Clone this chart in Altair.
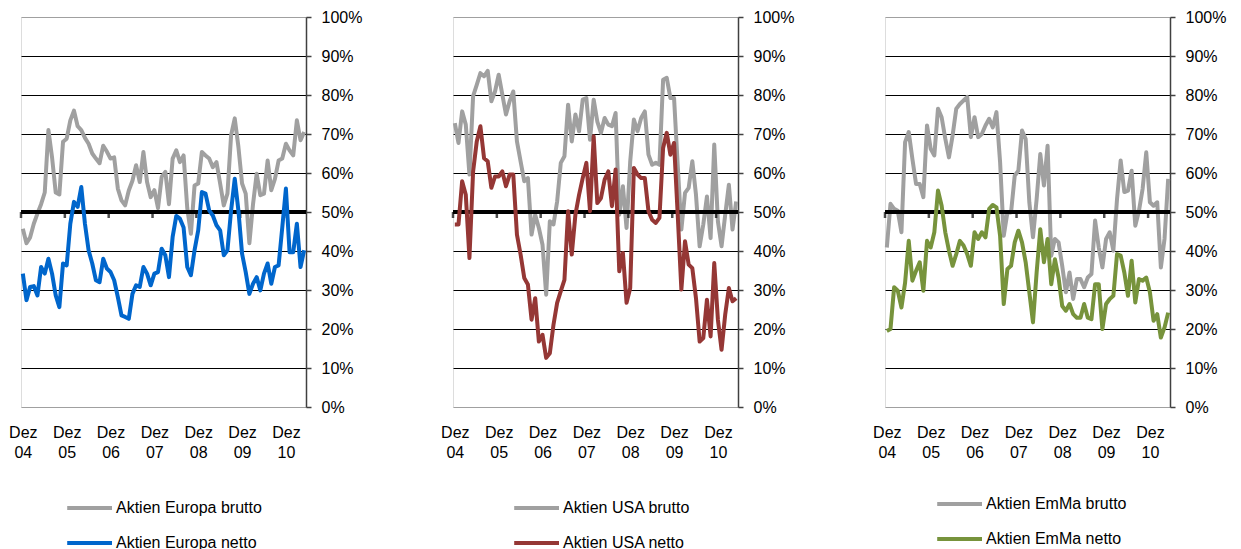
import altair as alt
import pandas as pd

# ---------------- data ----------------
months = list(range(78))  # Dez 04 .. Mai 11 (monthly)
tick_values = [0, 12, 24, 36, 48, 60, 72]
tick_labels = [["Dez", "04"], ["Dez", "05"], ["Dez", "06"], ["Dez", "07"],
               ["Dez", "08"], ["Dez", "09"], ["Dez", "10"]]
year_marks = [-0.5, 11.5, 23.5, 35.5, 47.5, 59.5, 71.5]
y_ticks = [0, 10, 20, 30, 40, 50, 60, 70, 80, 90, 100]

eu_brutto = [45.7, 42, 43.5, 47, 49.6, 52, 55, 71, 64, 55,
             54.5, 68, 68.8, 73.5, 76, 72, 71, 69, 67.5, 65,
             63.7, 62.5, 67, 65.5, 63.7, 64, 56, 53, 51.7, 55.5,
             58, 62, 57.7, 65.4, 57.7, 53.8, 55.6, 51, 59, 60.3,
             52, 63.7, 65.8, 62.8, 64.5, 51, 44.4, 56.8, 57.3, 65.4,
             64.5, 63.7, 61.5, 62.8, 57.3, 51.7, 54.7, 69.7, 74, 66.7,
             57.3, 54.7, 42, 52, 59.8, 54.3, 54.7, 63.2, 55.6, 58.5,
             63.2, 63.7, 67.5, 65.8, 64.5, 73.5, 68.4, 70.5]
eu_netto = [34.2, 27.4, 30.8, 31, 28.6, 35.9, 34.2, 38, 34.2, 28.6,
            25.6, 36.8, 36.3, 47, 52.6, 51.3, 56.4, 47, 40.2, 36.8,
            32.5, 32, 38, 35.5, 34.6, 32.5, 28.2, 23.5, 23.1, 22.6,
            29, 31.2, 30.8, 35.9, 34.2, 31.2, 34.2, 34.6, 40.6, 38.9,
            33.3, 43.6, 49, 48.3, 46, 35.9, 33.8, 40.2, 45.3, 55.1,
            54.7, 50.4, 49.1, 46.6, 45.3, 38.9, 40.2, 50.4, 58.5, 50.4,
            39.3, 34.6, 29, 31.6, 33.3, 29.9, 34.2, 36.8, 31.6, 35.9,
            36.3, 46, 56, 39.7, 39.7, 47, 35.9, 40.2]
us_brutto = [72.8, 67.7, 75.8, 72.4, 59.6, 79.7, 82.6, 85.6, 84.8, 86.2,
             78.4, 80.9, 85.2, 80.1, 75, 78.4, 80.9, 68.1, 63, 57.9,
             58.7, 44.2, 49.3, 45.9, 41.6, 28.8, 47.6, 46.8, 52.7, 62.6,
             64.3, 77.5, 68.1, 75, 70.7, 78.8, 79.2, 68.5, 78.8, 73.2,
             70.3, 74.1, 72.4, 72, 75.4, 49.3, 56.6, 45.9, 63, 73.7,
             70.7, 74.1, 75.8, 64.7, 62.1, 62.6, 62.1, 83.9, 84.4, 79.2,
             79.2, 62.1, 45.5, 54.9, 56.2, 63, 54.4, 41.2, 46.8, 54,
             43.3, 67.3, 47.6, 41.2, 49.3, 57, 45.5, 52.7]
us_netto = [46.8, 46.8, 57.9, 54.4, 38.2, 60.4, 68.1, 72, 63.8, 63,
            56.2, 59.1, 59.1, 60.4, 56.6, 59.6, 59.6, 44.2, 39.1, 33.1,
            31.4, 22.4, 27.9, 16.8, 18.5, 12.6, 13.8, 21.1, 26.7, 29.7,
            32.6, 50.2, 39.1, 49.3, 54.4, 58.7, 62.6, 50.2, 69.4, 52.3,
            53.6, 58.3, 60.4, 51.5, 60.9, 34.8, 39.5, 26.7, 30.5, 61.3,
            59.6, 58.7, 58.7, 50.2, 48, 47.2, 48.5, 66.4, 70.3, 64.7,
            67.7, 49.3, 30.1, 42.5, 36.5, 35.6, 27.9, 16.8, 17.7, 27.5,
            18.1, 36.9, 22.4, 14.7, 23.7, 30.5, 27.1, 27.9]
em_brutto = [40.9, 52.1, 50.8, 50.3, 44.8, 67.9, 70.5, 63.6, 57.2, 57.2,
             53.8, 72.2, 66.2, 64.5, 76.5, 74.3, 68.8, 64, 69.6, 76.5,
             77.7, 78.6, 79.5, 69.2, 74.3, 69.2, 70, 72.2, 73.9, 71.7,
             75.6, 62.8, 43.9, 49.9, 49.9, 59.3, 60.6, 70.9, 68.7, 52.5,
             43.5, 53.3, 64.9, 56.8, 67, 38.8, 43.1, 42.2, 36.2, 29.4,
             34.5, 27.7, 32.8, 32.8, 30.7, 33.2, 34.1, 47.8, 40.9, 35.8,
             43.1, 44.8, 40.1, 53.3, 63.2, 55.1, 55.5, 60.6, 46.5, 50.3,
             55.9, 65.3, 52.5, 51.6, 52.5, 35.8, 43.1, 58.5]
em_netto = [19.5, 20, 30.7, 29.8, 25.5, 31.9, 42.6, 32.4, 34.9, 37.1,
            29.8, 42.6, 40.9, 44.8, 55.5, 51.6, 44.8, 40.1, 36.2, 39.2,
            42.6, 41.4, 39.2, 36.2, 44.8, 43.1, 44.8, 43.5, 50.8, 51.8,
            51.2, 43.9, 26.4, 35.4, 36.2, 42.2, 45.2, 42.2, 37.1, 29.4,
            21.7, 34.5, 45.6, 37.1, 43.1, 31.5, 37.9, 33.2, 25.9, 24.7,
            26.4, 23.8, 22.9, 22.9, 26.4, 22.9, 22.5, 31.5, 31.5, 20,
            26.4, 27.7, 28.5, 39.2, 38.8, 34.5, 28.5, 37.5, 26.8, 32.8,
            32.4, 33.2, 29.4, 22.1, 23.8, 17.8, 20.4, 24.2]

FONT = "Liberation Sans, Arial, sans-serif"
GRAY = "#a0a0a0"
W, H = 285, 390

label_expr = str(tick_labels).replace('"', "'") + "[round(datum.value/12)]"

X_AXIS = alt.Axis(values=tick_values, labelExpr=label_expr, title=None,
                  grid=False, ticks=False, domain=False, labelFlush=False,
                  labelOverlap=False, labelFontSize=16, labelFont=FONT,
                  labelColor="black", labelLineHeight=20, labelPadding=17)
Y_AXIS = alt.Axis(orient="right", values=y_ticks, tickCount=11, title=None,
                  labelExpr="datum.value + '%'", labelFontSize=16, labelOverlap=False,
                  labelFont=FONT, labelColor="black", labelPadding=10,
                  tickSize=5, tickColor="#404040", tickWidth=1.5,
                  domainColor="#404040", domainWidth=1.5,
                  grid=True, gridWidth=1,
                  gridColor=alt.condition("datum.value == 100 || datum.value == 0",
                                          alt.value(GRAY), alt.value("black")))
X_SCALE = alt.Scale(domain=[-0.5, 77.5], nice=False, zero=False)
Y_SCALE = alt.Scale(domain=[0, 100], nice=False)


def panel(brutto, netto, name_b, name_n, color, leg_x, leg_y):
    df = pd.DataFrame({
        "m": months + months,
        "v": brutto + netto,
        "s": [name_b] * len(months) + [name_n] * len(months),
    })
    x = alt.X("m:Q", scale=X_SCALE, axis=X_AXIS)
    y = alt.Y("v:Q", scale=Y_SCALE, axis=Y_AXIS)
    color_enc = alt.Color("s:N",
                          scale=alt.Scale(domain=[name_b, name_n], range=[GRAY, color]),
                          legend=alt.Legend(orient="none", legendX=leg_x, legendY=leg_y,
                                            title=None, labelFontSize=16, labelFont=FONT,
                                            labelColor="black", symbolType="M-5.4,0L1,0",
                                            symbolSize=196, symbolStrokeWidth=4,
                                            rowPadding=18, labelOffset=2, padding=0))
    base = alt.Chart(df)
    ref_line = alt.Chart(pd.DataFrame({"v": [50]})).mark_rule(
        color="black", strokeWidth=4).encode(y=y)
    marks = alt.Chart(pd.DataFrame({"m": year_marks, "v": [50] * len(year_marks)})).mark_tick(
        color="black", orient="vertical", size=6, thickness=2.5, yOffset=3).encode(x=x, y=y)
    line_b = base.transform_filter(alt.datum.s == name_b).mark_line(
        strokeWidth=4, strokeJoin="round").encode(x=x, y=y, color=color_enc)
    line_n = base.transform_filter(alt.datum.s == name_n).mark_line(
        strokeWidth=4, strokeJoin="round").encode(x=x, y=y, color=color_enc)
    return alt.layer(line_b, ref_line, marks, line_n).properties(width=W, height=H)


p1 = panel(eu_brutto, eu_netto, "Aktien Europa brutto", "Aktien Europa netto",
           "#0066cc", 75, 482)
p2 = panel(us_brutto, us_netto, "Aktien USA brutto", "Aktien USA netto",
           "#953735", 90, 482)
p3 = panel(em_brutto, em_netto, "Aktien EmMa brutto", "Aktien EmMa netto",
           "#77933c", 81, 478)

chart = alt.hconcat(p1, p2, p3, spacing=77).resolve_scale(
    color="independent").resolve_legend(color="independent").properties(
    padding={"left": 0, "top": 0, "right": 0, "bottom": 0}
).configure_view(stroke=GRAY, strokeWidth=1.5).configure(background="white")

chart.save("out.html", embed_options={"renderer": "svg", "actions": False})
